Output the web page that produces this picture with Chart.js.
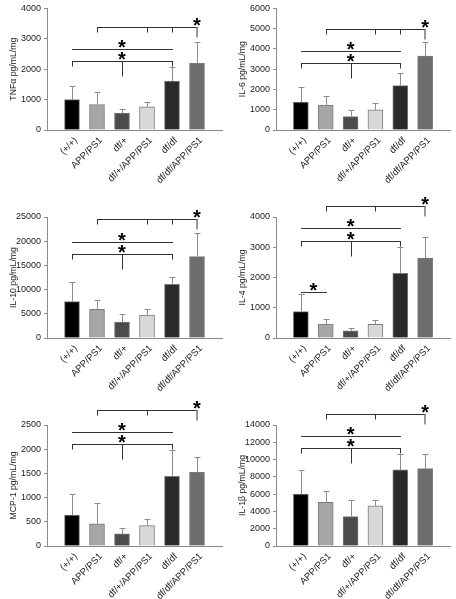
<!DOCTYPE html>
<html><head><meta charset="utf-8">
<script src="https://cdn.jsdelivr.net/npm/chart.js@4.4.1/dist/chart.umd.min.js"></script>
<style>
html,body{margin:0;padding:0;background:#fff;}
body{width:456px;height:599px;position:relative;overflow:hidden;}
canvas{position:absolute;}
</style></head><body>
<canvas id="c1" width="228" height="200" style="left:0px;top:0px"></canvas>
<canvas id="c2" width="227" height="200" style="left:229px;top:0px"></canvas>
<canvas id="c3" width="228" height="215" style="left:0px;top:185px"></canvas>
<canvas id="c4" width="227" height="215" style="left:229px;top:185px"></canvas>
<canvas id="c5" width="228" height="214" style="left:0px;top:385px"></canvas>
<canvas id="c6" width="227" height="214" style="left:229px;top:385px"></canvas>
<script>
// ---- data ----
const categories = ['(+/+)', 'APP/PS1', 'df/+', 'df/+/APP/PS1', 'df/df', 'df/df/APP/PS1'];

const tnfMeans  = [1000, 840, 555, 765, 1610, 2190];
const tnfErrors = [450, 400, 125, 145, 460, 700];
const il6Means  = [1380, 1230, 660, 990, 2190, 3650];
const il6Errors = [720, 430, 330, 320, 600, 670];
const il10Means  = [7500, 5900, 3300, 4750, 11100, 16800];
const il10Errors = [4000, 1900, 1600, 1150, 1600, 4800];
const il4Means  = [870, 460, 240, 450, 2140, 2640];
const il4Errors = [580, 180, 90, 130, 860, 710];
const mcpMeans  = [640, 460, 250, 420, 1440, 1520];
const mcpErrors = [430, 420, 115, 140, 550, 320];
const il1bMeans  = [6000, 5050, 3400, 4650, 8800, 8950];
const il1bErrors = [2800, 1350, 1900, 700, 1850, 1700];

// y axis ranges: [max, step]
const tnfAxis = [4000, 1000];
const il6Axis = [6000, 1000];
const il10Axis = [25000, 5000];
const il4Axis = [4000, 1000];
const mcpAxis = [2500, 500];
const il1bAxis = [14000, 2000];

// significance bracket heights (data units): [top, middle, lower]
const tnfSig  = [3380, 2650, 2260];
const il6Sig  = [5000, 3900, 3300];
const il10Sig = [24500, 19800, 17400];
const il4Sig  = [4350, 3620, 3210, 1530];
const mcpSig  = [2820, 2355, 2110];
const il1bSig = [15300, 12700, 11300];

// ---- styling ----
const barColors = ['#000000', '#a6a6a6', '#4b4b4b', '#d8d8d8', '#2a2a2a', '#6e6e6e'];
const FONT = '"Liberation Sans", Arial, sans-serif';
const AXIS = '#8c8c8c';

function makeBrackets(sig, topDrops) {
  const b = [
    {y: sig[0], from: 1, to: 5, drops: [1].concat(topDrops), grayDrop: 5, star: 5},
    {y: sig[1], from: 0, to: 4, star: 2},
    {y: sig[2], from: 0, to: 4, drops: [0, 4], longDrops: [2], star: 2}
  ];
  if (sig.length > 3) b.push({y: sig[3], from: 0, to: 1, star: 0.5});
  return b;
}

function annotations(spec) {
  return {
    id: 'annot',
    afterDatasetsDraw(chart) {
      const ctx = chart.ctx, xs = chart.scales.x, ys = chart.scales.y;
      const X = i => xs.getPixelForValue(i), Y = v => ys.getPixelForValue(v);
      const snap = v => Math.round(v) + 0.5;
      ctx.save();
      ctx.strokeStyle = '#8c8c8c'; ctx.lineWidth = 1;
      spec.means.forEach((m, i) => {
        const px = snap(X(i)), y0 = Y(m), y1 = snap(Y(m + spec.errors[i]));
        ctx.beginPath();
        ctx.moveTo(px, y0); ctx.lineTo(px, y1);
        ctx.moveTo(px - 3, y1); ctx.lineTo(px + 3, y1);
        ctx.stroke();
      });
      spec.brackets.forEach(b => {
        const yy = snap(Y(b.y)), x0 = snap(X(b.from)), x1 = snap(X(b.to));
        ctx.strokeStyle = '#333'; ctx.lineWidth = 1;
        ctx.beginPath();
        ctx.moveTo(x0 - 0.5, yy); ctx.lineTo(x1 + 0.5, yy);
        (b.drops || []).forEach(i => { const p = snap(X(i)); ctx.moveTo(p, yy); ctx.lineTo(p, yy + 5); });
        (b.longDrops || []).forEach(i => { const p = snap(X(i)); ctx.moveTo(p, yy); ctx.lineTo(p, yy + 15); });
        ctx.stroke();
        if (b.grayDrop != null) {
          const p = Math.round(X(b.grayDrop));
          ctx.strokeStyle = '#999'; ctx.lineWidth = 2;
          ctx.beginPath(); ctx.moveTo(p, yy); ctx.lineTo(p, yy + 10); ctx.stroke();
        }
        ctx.fillStyle = '#000';
        ctx.font = 'bold 20px ' + FONT;
        ctx.textAlign = 'center'; ctx.textBaseline = 'alphabetic';
        const mm = ctx.measureText('*');
        const cy = yy - 6;
        const base = cy + (mm.actualBoundingBoxAscent - mm.actualBoundingBoxDescent) / 2;
        ctx.fillText('*', X(b.star), base);
      });
      ctx.restore();
    }
  };
}

function makeChart(id, title, means, errors, axis, brackets, padTop, axisHeight) {
  const spec = {means, errors, brackets};
  new Chart(document.getElementById(id), {
    type: 'bar',
    data: {
      datasets: [{
        data: means.map((v, i) => ({x: i, y: v})),
        backgroundColor: barColors,
        borderColor: '#7a7a7a',
        borderWidth: 1,
        barThickness: 15
      }]
    },
    options: {
      responsive: false,
      animation: false,
      devicePixelRatio: 1,
      layout: {padding: {left: 0, right: 6, top: padTop, bottom: 0}},
      plugins: {legend: {display: false}, tooltip: {enabled: false}},
      scales: {
        x: {
          type: 'linear', min: -1, max: 6, offset: false,
          grid: {display: false, offset: false},
          border: {display: true, color: AXIS, width: 1},
          ticks: {
            stepSize: 1, autoSkip: false, minRotation: 45, maxRotation: 45,
            callback: v => (categories[v] !== undefined ? categories[v] : ''),
            font: {family: FONT, size: 9.5}, color: '#222', padding: -3, labelOffset: 4
          },
          afterFit(s) { s.height = axisHeight; s.paddingLeft = 0; s.paddingRight = 0; }
        },
        y: {
          min: 0, max: axis[0],
          ticks: {stepSize: axis[1], callback: v => String(v), font: {family: FONT, size: 9}, color: '#222', padding: 3},
          grid: {drawOnChartArea: false, drawTicks: true, tickLength: 3, color: AXIS},
          border: {display: true, color: AXIS, width: 1},
          title: {display: true, text: title, font: {family: FONT, size: 8.7}, color: '#222', padding: {top: 8, bottom: 0}},
          afterFit(s) { s.width = 47; }
        }
      }
    },
    plugins: [annotations(spec)]
  });
}

makeChart('c1', 'TNFα pg/mL/mg', tnfMeans, tnfErrors, tnfAxis, makeBrackets(tnfSig, [3, 4]), 8, 70);
makeChart('c2', 'IL-6 pg/mL/mg', il6Means, il6Errors, il6Axis, makeBrackets(il6Sig, [3, 4]), 8, 70);
makeChart('c3', 'IL-10 pg/mL/mg', il10Means, il10Errors, il10Axis, makeBrackets(il10Sig, [3, 4]), 32, 62);
makeChart('c4', 'IL-4 pg/mL/mg', il4Means, il4Errors, il4Axis, makeBrackets(il4Sig, [3]), 32, 62);
makeChart('c5', 'MCP-1 pg/mL/mg', mcpMeans, mcpErrors, mcpAxis, makeBrackets(mcpSig, [3]), 40, 53);
makeChart('c6', 'IL-1β pg/mL/mg', il1bMeans, il1bErrors, il1bAxis, makeBrackets(il1bSig, [3]), 40, 53);
</script>
</body></html>
